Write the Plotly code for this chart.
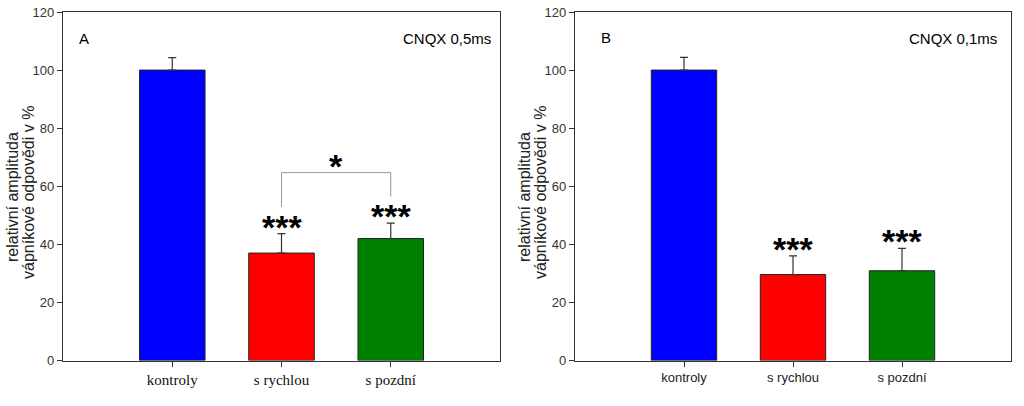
import plotly.graph_objs as go
from plotly.subplots import make_subplots

categories = ["kontroly", "s rychlou", "s pozdní"]
bar_colors = ["#0000FF", "#FF0000", "#008000"]

# panel A - CNQX 0,5ms
a_means = [100, 37.0, 42.0]
a_errors = [4.3, 6.7, 5.3]
a_stars = ["", "***", "***"]

# panel B - CNQX 0,1ms
b_means = [100, 29.6, 30.9]
b_errors = [4.4, 6.4, 7.7]
b_stars = ["", "***", "***"]

y_title_lines = ["relativní amplituda", "vápníkové odpovědi v %"]
axis_color = "#333333"
W, H = 1024, 406

fig = make_subplots(rows=1, cols=2)

for col, means, errors in [(1, a_means, a_errors), (2, b_means, b_errors)]:
    fig.add_trace(go.Bar(
        x=categories,
        y=means,
        width=0.6,
        marker=dict(color=bar_colors, line=dict(color="#222222", width=1)),
        error_y=dict(type="data", array=errors, arrayminus=[0] * len(errors),
                     symmetric=False, color=axis_color, thickness=1.2, width=4),
        showlegend=False,
        hoverinfo="skip",
    ), row=1, col=col)

fig.update_layout(
    width=W, height=H,
    margin=dict(l=0, r=0, t=0, b=0, autoexpand=False),
    plot_bgcolor="white", paper_bgcolor="white",
    font=dict(family="Arial, Liberation Sans, sans-serif", color="#222222"),
    bargap=0.4,
)

x_domains = [[63 / W, 500 / W], [575 / W, 1011 / W]]
y_domain = [1 - 360.5 / H, 1 - 12 / H]
tick_fonts = [dict(family="Liberation Serif", size=15, color="#111111"),
              dict(family="Arial, Liberation Sans, sans-serif", size=13, color="#222222")]
for i in range(2):
    xname = "xaxis" if i == 0 else "xaxis2"
    yname = "yaxis" if i == 0 else "yaxis2"
    fig.layout[xname].update(
        domain=x_domains[i], range=[-1, 3], showline=True, linecolor=axis_color,
        linewidth=1.2, mirror=True, ticks="outside", ticklen=5, tickcolor=axis_color,
        showgrid=False, tickfont=tick_fonts[i], fixedrange=True, automargin=False,
    )
    fig.layout[yname].update(
        domain=y_domain, range=[0, 120], dtick=20, showline=True,
        linecolor=axis_color, linewidth=1.2, mirror=True, ticks="outside",
        ticklen=5, tickcolor=axis_color, showgrid=False, zeroline=False,
        tickfont=dict(size=13, color="#333333"), automargin=False,
        ticklabeloverflow="allow", fixedrange=True,
    )

annotations = []
for xref, yref, means, errors, stars in [("x", "y", a_means, a_errors, a_stars),
                                          ("x2", "y2", b_means, b_errors, b_stars)]:
    for cat, m, e, s in zip(categories, means, errors, stars):
        if s:
            annotations.append(dict(
                x=cat, y=m + e, xref=xref, yref=yref, text="<b>" + s + "</b>",
                showarrow=False, yanchor="bottom", yshift=-14,
                font=dict(size=34, color="black"),
            ))

# two-line y titles, one per panel
for x_left in [0, 512]:
    for line, dx, cy in zip(y_title_lines, [12, 29], [197, 193]):
        annotations.append(dict(
            x=(x_left + dx) / W, y=1 - cy / H, xref="paper", yref="paper", text=line,
            textangle=-90, showarrow=False, xanchor="center", yanchor="middle",
            font=dict(size=16, color="#222222"),
        ))

annotations += [
    dict(x=0.0, y=1.0, xref="x domain", yref="y domain", text="A", showarrow=False,
         xanchor="left", yanchor="top", xshift=14, yshift=-16, font=dict(size=15, color="black")),
    dict(x=1.0, y=1.0, xref="x domain", yref="y domain", text="CNQX 0,5ms", showarrow=False,
         xanchor="right", yanchor="top", xshift=-7, yshift=-16, font=dict(size=15, color="black")),
    dict(x=0.0, y=1.0, xref="x2 domain", yref="y2 domain", text="B", showarrow=False,
         xanchor="left", yanchor="top", xshift=24, yshift=-15, font=dict(size=15, color="black")),
    dict(x=1.0, y=1.0, xref="x2 domain", yref="y2 domain", text="CNQX 0,1ms", showarrow=False,
         xanchor="right", yanchor="top", xshift=-12, yshift=-16, font=dict(size=15, color="black")),
]

# significance bracket between s rychlou and s pozdní in panel A
bracket_top = 64.7
bracket_color = "#999999"
left_cat, right_cat = categories[1], categories[2]
left_low = a_means[1] + a_errors[1] + 9.2
right_low = a_means[2] + a_errors[2] + 9.1
shapes = [
    dict(type="line", xref="x", yref="y", x0=left_cat, x1=left_cat, y0=left_low, y1=bracket_top,
         line=dict(color=bracket_color, width=1)),
    dict(type="line", xref="x", yref="y", x0=right_cat, x1=right_cat, y0=right_low, y1=bracket_top,
         line=dict(color=bracket_color, width=1)),
    dict(type="line", xref="x", yref="y", x0=left_cat, x1=right_cat, y0=bracket_top, y1=bracket_top,
         line=dict(color=bracket_color, width=1)),
]
annotations.append(dict(x=1.5, y=bracket_top, xref="x", yref="y", text="<b>*</b>", showarrow=False,
                        yanchor="bottom", yshift=-14, font=dict(size=34, color="black")))

fig.update_layout(annotations=annotations, shapes=shapes)

# drop the default 8px body margin so the figure fills the window exactly
fig.write_html("out.html", config={"displayModeBar": False},
               post_script="document.body.style.margin='0';")
